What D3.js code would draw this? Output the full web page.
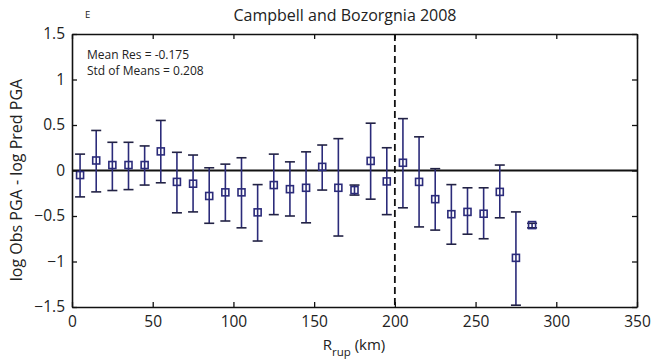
<!DOCTYPE html>
<html>
<head>
<meta charset="utf-8">
<script src="https://cdn.jsdelivr.net/npm/d3@7"></script>
<style>
  html, body { margin: 0; padding: 0; background: #fff; }
  svg { display: block; }
  text { font-family: "Open Sans", "Lato", sans-serif; fill: #222; }
</style>
</head>
<body>
<svg id="chart" width="651" height="364"></svg>
<script>
// Distance bins (km)
const rrup = [5, 15, 25, 35, 45, 55, 65, 75, 85, 95, 105, 115, 125, 135, 145, 155, 165, 175, 185, 195, 205, 215, 225, 235, 245, 255, 265, 275, 285];
// Mean residual per bin
const meanRes = [-0.05, 0.11, 0.06, 0.06, 0.06, 0.21, -0.125, -0.145, -0.28, -0.24, -0.24, -0.46, -0.16, -0.205, -0.19, 0.04, -0.19, -0.215, 0.105, -0.12, 0.085, -0.125, -0.315, -0.48, -0.455, -0.475, -0.235, -0.96, -0.60];
// Upper and lower error bar ends
const upperRes = [0.18, 0.44, 0.31, 0.31, 0.27, 0.55, 0.20, 0.17, 0.03, 0.07, 0.14, -0.155, 0.18, 0.095, 0.205, 0.28, 0.35, -0.16, 0.52, 0.25, 0.57, 0.37, 0.02, -0.155, -0.19, -0.19, 0.06, -0.455, -0.58];
const lowerRes = [-0.29, -0.235, -0.22, -0.21, -0.16, -0.135, -0.465, -0.455, -0.58, -0.555, -0.63, -0.775, -0.485, -0.50, -0.575, -0.215, -0.72, -0.27, -0.315, -0.485, -0.41, -0.62, -0.655, -0.81, -0.70, -0.75, -0.52, -1.48, -0.63];

const xTicks = [0, 50, 100, 150, 200, 250, 300, 350];
const yTicks = [-1.5, -1, -0.5, 0, 0.5, 1, 1.5];
const xDomain = [0, 350];
const yDomain = [-1.5, 1.5];
const cutoff = 200;

const titleText = "Campbell and Bozorgnia 2008";
const panelLabel = "E";
const statsLines = ["Mean Res = -0.175", "Std of Means = 0.208"];

const svg = d3.select("#chart");
const margin = { left: 72, right: 14, top: 34, bottom: 57 };
const W = 651, H = 364;
const x = d3.scaleLinear().domain(xDomain).range([margin.left, W - margin.right]);
const y = d3.scaleLinear().domain(yDomain).range([H - margin.bottom, margin.top]);

const navy = "#2b2b7a";
const tickLen = 5;

// Zero line
svg.append("line")
  .attr("x1", x(xDomain[0])).attr("x2", x(xDomain[1]))
  .attr("y1", y(0)).attr("y2", y(0))
  .attr("stroke", "#111").attr("stroke-width", 2);

// Vertical dashed line
svg.append("line")
  .attr("x1", x(cutoff)).attr("x2", x(cutoff))
  .attr("y1", y(yDomain[1])).attr("y2", y(yDomain[0]))
  .attr("stroke", "#111").attr("stroke-width", 1.8)
  .attr("stroke-dasharray", "7,4");

// Error bars
const data = rrup.map((r, i) => ({ r, m: meanRes[i], hi: upperRes[i], lo: lowerRes[i] }));
const g = svg.append("g");
const capW = 5;
g.selectAll("line.err").data(data).enter().append("line")
  .attr("class", "err")
  .attr("x1", d => x(d.r)).attr("x2", d => x(d.r))
  .attr("y1", d => y(d.hi)).attr("y2", d => y(d.lo))
  .attr("stroke", navy).attr("stroke-width", 1.6);
g.selectAll("line.capHi").data(data).enter().append("line")
  .attr("x1", d => x(d.r) - capW).attr("x2", d => x(d.r) + capW)
  .attr("y1", d => y(d.hi)).attr("y2", d => y(d.hi))
  .attr("stroke", "#222244").attr("stroke-width", 1.6);
g.selectAll("line.capLo").data(data).enter().append("line")
  .attr("x1", d => x(d.r) - capW).attr("x2", d => x(d.r) + capW)
  .attr("y1", d => y(d.lo)).attr("y2", d => y(d.lo))
  .attr("stroke", "#222244").attr("stroke-width", 1.6);
const ms = 7;
g.selectAll("rect.mk").data(data).enter().append("rect")
  .attr("x", d => x(d.r) - ms / 2).attr("y", d => y(d.m) - ms / 2)
  .attr("width", ms).attr("height", ms)
  .attr("fill", "none").attr("stroke", navy).attr("stroke-width", 1.6);

// Axes (MATLAB-style box with inward ticks)
const xAxisB = d3.axisBottom(x).tickValues(xTicks).tickSizeInner(-tickLen).tickSizeOuter(0).tickPadding(9).tickFormat(d3.format("~g"));
const xAxisT = d3.axisTop(x).tickValues(xTicks).tickSizeInner(-tickLen).tickSizeOuter(0).tickFormat("");
const yAxisL = d3.axisLeft(y).tickValues(yTicks).tickSizeInner(-tickLen).tickSizeOuter(0).tickPadding(7).tickFormat(d3.format("~g"));
const yAxisR = d3.axisRight(y).tickValues(yTicks).tickSizeInner(-tickLen).tickSizeOuter(0).tickFormat("");

function style(sel) {
  sel.select(".domain").attr("stroke", "#111").attr("stroke-width", 1.6);
  sel.selectAll(".tick line").attr("stroke", "#111").attr("stroke-width", 1.3);
  sel.selectAll(".tick text").attr("font-size", 15.5).attr("fill", "#222")
    .attr("font-family", "'Open Sans', sans-serif");
}
svg.append("g").attr("transform", `translate(0,${y(yDomain[0])})`).call(xAxisB).call(style);
svg.append("g").attr("transform", `translate(0,${y(yDomain[1])})`).call(xAxisT).call(style);
svg.append("g").attr("transform", `translate(${x(xDomain[0])},0)`).call(yAxisL).call(style);
svg.append("g").attr("transform", `translate(${x(xDomain[1])},0)`).call(yAxisR).call(style);

// Title and labels
svg.append("text").attr("x", 345).attr("y", 21).attr("text-anchor", "middle")
  .attr("font-size", 16).text(titleText);
svg.append("text").attr("x", 85).attr("y", 18).attr("font-size", 9.5).text(panelLabel);
statsLines.forEach((t, i) => {
  svg.append("text").attr("x", 87).attr("y", 59 + i * 16).attr("font-size", 12).text(t);
});
svg.append("text")
  .attr("transform", `translate(22,${(283 + 77) / 2}) rotate(-90)`)
  .attr("text-anchor", "middle").attr("font-size", 16)
  .text("log Obs PGA - log Pred PGA");
const xl = svg.append("text").attr("x", 354).attr("y", 350).attr("text-anchor", "middle").attr("font-size", 15);
xl.append("tspan").text("R");
xl.append("tspan").attr("dy", 6).attr("font-size", 11.5).text("rup");
xl.append("tspan").attr("dy", -6).text(" (km)");
</script>
</body>
</html>
